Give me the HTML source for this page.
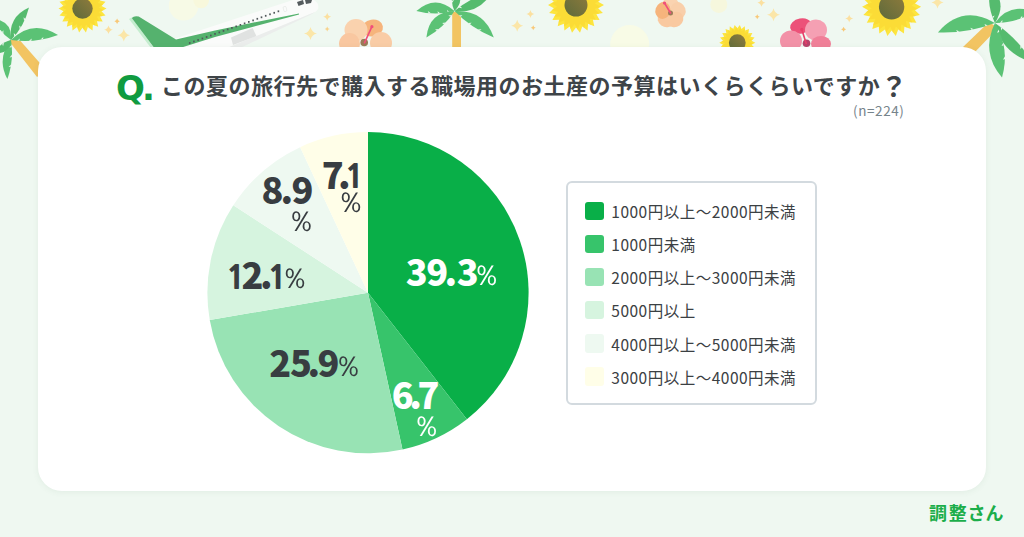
<!DOCTYPE html>
<html lang="ja">
<head>
<meta charset="utf-8">
<style>
*{margin:0;padding:0;box-sizing:border-box}
html,body{width:1024px;height:537px;overflow:hidden}
body{position:relative;background:#eff8f1;font-family:"Liberation Sans","Noto Sans CJK JP",sans-serif}
#deco{position:absolute;left:0;top:0}
#card{position:absolute;left:38px;top:47px;width:948px;height:444px;background:#fff;border-radius:24px;box-shadow:0 1px 6px rgba(60,120,80,.08)}
#q{position:absolute;left:116px;top:68px;font-family:"DejaVu Sans",sans-serif;font-weight:700;font-size:34px;color:#109b40;line-height:40px;letter-spacing:-3px}
#title{position:absolute;left:161px;top:68px;font-family:"Noto Sans CJK JP",sans-serif;font-weight:700;font-size:22px;color:#3e4448;line-height:32px;white-space:nowrap;letter-spacing:0.5px}
#qm{font-size:27px;vertical-align:top;position:relative;top:1.5px}
#n{position:absolute;left:853px;top:101px;font-family:"Noto Sans CJK JP",sans-serif;font-size:13.5px;color:#76848b;line-height:18px;letter-spacing:0.6px}
#pie{position:absolute;left:0;top:0}
.g{position:absolute;font-family:"Noto Sans CJK JP",sans-serif;font-weight:900;font-size:36px;line-height:36px;white-space:nowrap}
.g1{position:absolute;font-family:"NanumGothic","Noto Sans CJK JP",sans-serif;font-weight:800;font-size:33.5px;line-height:36px;white-space:nowrap}
.pc{position:absolute;font-family:"WenQuanYi Zen Hei","DejaVu Sans",sans-serif;font-weight:400;font-size:28.5px;line-height:36px;white-space:nowrap}
#legend{position:absolute;left:566px;top:181px;width:251px;height:224px;border:2px solid #d3dadf;border-radius:6px;background:#fff}
.row{position:absolute;left:17.3px;height:19px;font-family:"Noto Sans CJK JP",sans-serif;font-size:15.5px;color:#3b4043;line-height:19px;white-space:nowrap;letter-spacing:0.5px}
.sw{position:absolute;left:0;top:0;width:18.8px;height:18.6px;border-radius:3px}
.row span.t{position:absolute;left:26px;top:0.5px}
#logo{position:absolute;left:929px;top:498.5px;font-family:"Noto Sans CJK JP",sans-serif;font-weight:700;font-size:18px;color:#1bae4a;line-height:26px;letter-spacing:1.7px;font-feature-settings:"palt"}
</style>
</head>
<body>
<svg id="deco" width="1024" height="90" viewBox="0 0 1024 90">
<defs><linearGradient id="sfc" x1="1" y1="0" x2="0" y2="1"><stop offset="0" stop-color="#8f7b3c"/><stop offset="1" stop-color="#5d6a3b"/></linearGradient></defs>
<circle cx="183.6" cy="5.8" r="14.8" fill="#f7fae6"/>
<circle cx="201.2" cy="0.5" r="7.8" fill="#f8f8dc"/>
<circle cx="629.7" cy="44.5" r="19.5" fill="#f8fbe6"/>
<circle cx="718.8" cy="4.6" r="8.5" fill="#f6f7dd"/>
<path d="M9,41 L37,77 L46,70 L17,37Z" fill="#f2c462"/>
<path d="M11,40 Q7.7,16.9 29,7.4 Q24.4,26.1 11,40Z" fill="#55bb6e"/><path d="M24.1,21 L23.6,17.3 L25.3,18.9Z" fill="#eff8f1"/><path d="M19.7,29.2 L19.2,25.5 L20.9,27.1Z" fill="#eff8f1"/><path d="M14.2,36.8 L13.8,33.1 L15.4,34.7Z" fill="#eff8f1"/>
<path d="M11,40 Q32.5,18.6 58,35 Q35.1,43.5 11,40Z" fill="#5bc275"/><path d="M40.6,39.6 L43.4,37.1 L43,39.3Z" fill="#eff8f1"/><path d="M28.9,41 L31.7,38.5 L31.3,40.7Z" fill="#eff8f1"/><path d="M17,40.9 L19.8,38.4 L19.4,40.6Z" fill="#eff8f1"/>
<path d="M11,40 Q12.5,22.2 -5,19 Q-1,32.5 11,40Z" fill="#5bc275"/><path d="M3.4,34 L3.4,30.3 L2,32.1Z" fill="#eff8f1"/>
<path d="M11,40 Q-3.7,58.3 7.4,79 Q14.2,60 11,40Z" fill="#5bc275"/><path d="M11,64.4 L8.6,67.1 L10.8,66.8Z" fill="#eff8f1"/><path d="M12.1,54.6 L9.6,57.4 L11.8,57Z" fill="#eff8f1"/><path d="M11.8,44.8 L9.4,47.6 L11.6,47.2Z" fill="#eff8f1"/>
<path d="M11,40 Q9.3,54.3 -5,53 Q-0.2,42.6 11,40Z" fill="#55bb6e"/><path d="M4,42.6 L3.1,46.2 L2.2,44.1Z" fill="#eff8f1"/>
<polygon points="106.5,8.6 101.5,11.3 105.5,15.4 100,16.6 102.7,21.6 97,21.2 98.2,26.7 92.9,24.8 92.5,30.4 87.9,27 85.9,32.4 82.5,27.8 79.1,32.4 77.1,27 72.5,30.4 72.1,24.8 66.8,26.7 68,21.2 62.3,21.6 65,16.6 59.5,15.4 63.5,11.3 58.5,8.6 63.5,5.9 59.5,1.8 65,0.6 62.3,-4.4 68,-4 66.8,-9.5 72.1,-7.6 72.5,-13.2 77.1,-9.8 79.1,-15.2 82.5,-10.6 85.9,-15.2 87.9,-9.8 92.5,-13.2 92.9,-7.6 98.2,-9.5 97,-4 102.7,-4.4 100,0.6 105.5,1.8 101.5,5.9" fill="#fde53e"/><polygon points="103.6,10.1 98.4,12.1 102.3,16 96.8,16.4 99.4,21.3 94,20.1 95.2,25.5 90.3,22.9 89.9,28.4 86,24.5 84,29.7 81.3,24.9 78,29.2 76.8,23.9 72.4,27.1 72.7,21.7 67.6,23.5 69.4,18.4 64,18.7 67.2,14.3 61.9,13.1 66.2,9.8 61.4,7.1 66.6,5.1 62.7,1.2 68.2,0.8 65.6,-4.1 71,-2.9 69.8,-8.3 74.7,-5.7 75.1,-11.2 79,-7.3 81,-12.5 83.7,-7.7 87,-12 88.2,-6.7 92.6,-9.9 92.3,-4.5 97.4,-6.3 95.6,-1.2 101,-1.5 97.8,2.9 103.1,4.1 98.8,7.4" fill="#fbdc36"/><circle cx="82.5" cy="8.6" r="10.2" fill="url(#sfc)"/>
<path d="M117.1,18.6 Q117.6,20.8 119.8,21.3 Q117.6,21.8 117.1,24 Q116.6,21.8 114.4,21.3 Q116.6,20.8 117.1,18.6Z" fill="#f8c877"/>
<path d="M108.5,25.4 Q109.3,28.9 112.8,29.7 Q109.3,30.5 108.5,34 Q107.7,30.5 104.2,29.7 Q107.7,28.9 108.5,25.4Z" fill="#fbe0a0"/>
<path d="M123.8,29 Q124.9,34.1 130,35.2 Q124.9,36.3 123.8,41.4 Q122.7,36.3 117.6,35.2 Q122.7,34.1 123.8,29Z" fill="#fbe6a8"/>
<path d="M140,50 L173.8,39 L296,-1 L312,-1 Q320,3 318,9 Q317,11 315,12 L224,50Z" fill="#fafbfa"/>
<path d="M222,50 L315,12 Q313,13.5 310,15 L236,50Z" fill="#ebedec"/>
<path d="M129,19 L131.8,17.6 L154,48 L151,48Z" fill="#c5edcf"/>
<path d="M131.8,18 Q134,15.6 138.7,16.6 L176,39.5 L215,30.4 L299,13.4 L299,14.6 L215,37 L180,48 L154.3,48Z" fill="#55b26e"/>
<rect x="188.9" y="42.1" width="1.6" height="1.8" fill="#50575a"/>
<rect x="193.1" y="40.6" width="1.6" height="1.8" fill="#50575a"/>
<rect x="197.3" y="39.1" width="1.6" height="1.8" fill="#50575a"/>
<rect x="201.6" y="37.6" width="1.6" height="1.8" fill="#50575a"/>
<rect x="205.8" y="36.1" width="1.6" height="1.8" fill="#50575a"/>
<rect x="210" y="34.6" width="1.6" height="1.8" fill="#50575a"/>
<rect x="214.2" y="33" width="1.6" height="1.8" fill="#50575a"/>
<rect x="218.5" y="31.5" width="1.6" height="1.8" fill="#50575a"/>
<rect x="222.7" y="30" width="1.6" height="1.8" fill="#50575a"/>
<rect x="226.9" y="28.5" width="1.6" height="1.8" fill="#50575a"/>
<rect x="231.1" y="27" width="1.6" height="1.8" fill="#50575a"/>
<rect x="235.4" y="25.5" width="1.6" height="1.8" fill="#50575a"/>
<rect x="239.6" y="24" width="1.6" height="1.8" fill="#50575a"/>
<rect x="243.8" y="22.5" width="1.6" height="1.8" fill="#50575a"/>
<rect x="248" y="21" width="1.6" height="1.8" fill="#50575a"/>
<rect x="252.3" y="19.5" width="1.6" height="1.8" fill="#50575a"/>
<rect x="256.5" y="17.9" width="1.6" height="1.8" fill="#50575a"/>
<rect x="260.7" y="16.4" width="1.6" height="1.8" fill="#50575a"/>
<rect x="264.9" y="14.9" width="1.6" height="1.8" fill="#50575a"/>
<rect x="269.2" y="13.4" width="1.6" height="1.8" fill="#50575a"/>
<rect x="273.4" y="11.9" width="1.6" height="1.8" fill="#50575a"/>
<rect x="277.6" y="10.4" width="1.6" height="1.8" fill="#50575a"/>
<path d="M231,37.5 L252.6,28 L256.4,36 L233,45Z" fill="#e0e2e1"/>
<path d="M297,2 L303,0 L304,4 L298.5,6Z M305,0 L312,0 L311,3 L306,4Z" fill="#555b5e"/>
<rect x="283.5" y="6.5" width="3" height="5" rx="1" fill="none" stroke="#e3e6e4" stroke-width="0.6" transform="rotate(-15 285 9)"/>
<path d="M327.2,12.7 Q327.9,16 331.2,16.7 Q327.9,17.4 327.2,20.7 Q326.5,17.4 323.2,16.7 Q326.5,16 327.2,12.7Z" fill="#fbe0a0"/>
<path d="M327.2,26.5 Q327.6,28.6 329.7,29 Q327.6,29.4 327.2,31.5 Q326.8,29.4 324.7,29 Q326.8,28.6 327.2,26.5Z" fill="#f8d28a"/>
<path d="M310.5,26.9 Q311.7,32.2 317,33.4 Q311.7,34.6 310.5,39.9 Q309.3,34.6 304,33.4 Q309.3,32.2 310.5,26.9Z" fill="#fbe6a8"/>
<ellipse cx="372.5" cy="28" rx="10.5" ry="8.5" transform="rotate(-10 372.5 28)" fill="#f6b47c"/><ellipse cx="356" cy="30" rx="11.5" ry="11" transform="rotate(0 356 30)" fill="#fad2ae"/><ellipse cx="349.5" cy="44" rx="10.5" ry="11" transform="rotate(0 349.5 44)" fill="#f9c7a0"/><ellipse cx="381" cy="43" rx="11" ry="11" transform="rotate(0 381 43)" fill="#f9cca6"/><circle cx="364.2" cy="42.5" r="3.8" fill="#9b7a58"/><line x1="364.5" y1="42.8" x2="371.9" y2="26.7" stroke="#f0507a" stroke-width="1.6" stroke-linecap="round"/><circle cx="371.9" cy="26.7" r="1.6" fill="#f0507a"/>
<rect x="452.2" y="12" width="8.8" height="40" fill="#f2c462"/>
<path d="M454.5,11 Q479.6,14 492,-8 Q471,-3 454.5,11Z" fill="#55bb6e"/><path d="M476.8,-2.8 L480.4,-2.2 L478.9,-3.9Z" fill="#eff8f1"/><path d="M458.5,7.6 L462.1,8.2 L460.6,6.5Z" fill="#eff8f1"/>
<path d="M454.5,11 Q466.2,-0.8 454,-12 Q449.3,-0.4 454.5,11Z" fill="#55bb6e"/><path d="M451.9,3.1 L454.1,0 L451.9,0.7Z" fill="#eff8f1"/>
<path d="M454.5,11 Q435.4,-6 416.4,11 Q435.4,16 454.5,11Z" fill="#5bc275"/><path d="M430.9,13.3 L427.9,11.1 L428.5,13.3Z" fill="#eff8f1"/><path d="M440.5,13.4 L437.5,11.2 L438.1,13.4Z" fill="#eff8f1"/><path d="M450,12.3 L447,10.1 L447.6,12.3Z" fill="#eff8f1"/>
<path d="M454.5,11 Q428.8,11.9 426.4,37.5 Q443.9,27.9 454.5,11Z" fill="#5bc275"/><path d="M438.7,29.1 L435,29.5 L436.9,30.7Z" fill="#eff8f1"/><path d="M445.8,22.5 L442.1,23 L444,24.2Z" fill="#eff8f1"/><path d="M452,15.1 L448.3,15.5 L450.3,16.7Z" fill="#eff8f1"/>
<path d="M454.5,11 Q484.2,9.3 493.8,37.5 Q471.4,28.4 454.5,11Z" fill="#5bc275"/><path d="M477.8,29.4 L481.5,29.3 L479.8,30.8Z" fill="#eff8f1"/><path d="M467.9,22.9 L471.6,22.8 L469.9,24.3Z" fill="#eff8f1"/><path d="M458.7,15.4 L462.4,15.2 L460.7,16.7Z" fill="#eff8f1"/>
<path d="M517.2,19.8 Q518.3,24.7 523.2,25.8 Q518.3,26.9 517.2,31.8 Q516.1,26.9 511.2,25.8 Q516.1,24.7 517.2,19.8Z" fill="#fbe6a8"/>
<path d="M530.4,9.9 Q531.1,13.2 534.4,13.9 Q531.1,14.6 530.4,17.9 Q529.7,14.6 526.4,13.9 Q529.7,13.2 530.4,9.9Z" fill="#fbe0a0"/>
<path d="M533.2,25.3 Q533.7,27.4 535.7,27.8 Q533.7,28.2 533.2,30.3 Q532.8,28.2 530.7,27.8 Q532.8,27.4 533.2,25.3Z" fill="#f8c877"/>
<polygon points="604,5 598.2,8.2 602.9,12.9 596.4,14.3 599.6,20.1 592.9,19.7 594.3,26.2 588.1,23.8 587.6,30.5 582.3,26.5 580,32.7 576,27.4 572,32.7 569.7,26.5 564.4,30.5 563.9,23.8 557.7,26.2 559.1,19.7 552.4,20.1 555.6,14.3 549.1,12.9 553.8,8.2 548,5 553.8,1.8 549.1,-2.9 555.6,-4.3 552.4,-10.1 559.1,-9.7 557.7,-16.2 563.9,-13.8 564.4,-20.5 569.7,-16.5 572,-22.7 576,-17.4 580,-22.7 582.3,-16.5 587.6,-20.5 588.1,-13.8 594.3,-16.2 592.9,-9.7 599.6,-10.1 596.4,-4.3 602.9,-2.9 598.2,1.8" fill="#fde53e"/><polygon points="600.6,6.8 594.6,9 599.1,13.6 592.7,14.1 595.7,19.8 589.5,18.5 590.8,24.7 585.1,21.7 584.6,28.1 580,23.6 577.8,29.6 574.6,24 570.8,29.1 569.3,22.8 564.2,26.6 564.6,20.2 558.6,22.4 560.8,16.4 554.4,16.8 558.2,11.7 551.9,10.2 557,6.4 551.4,3.2 557.4,1 552.9,-3.6 559.3,-4.1 556.3,-9.8 562.5,-8.5 561.2,-14.7 566.9,-11.7 567.4,-18.1 572,-13.6 574.2,-19.6 577.4,-14 581.2,-19.1 582.7,-12.8 587.8,-16.6 587.4,-10.2 593.4,-12.4 591.2,-6.4 597.6,-6.8 593.8,-1.7 600.1,-0.2 595,3.6" fill="#fbdc36"/><circle cx="576" cy="5" r="11.5" fill="url(#sfc)"/>
<ellipse cx="670.5" cy="5" rx="8.5" ry="7.5" transform="rotate(0 670.5 5)" fill="#fad3b0"/><ellipse cx="678.1" cy="10.5" rx="8.5" ry="7.5" transform="rotate(72 678.1 10.5)" fill="#f9cfaa"/><ellipse cx="675.2" cy="19.5" rx="8.5" ry="7.5" transform="rotate(144 675.2 19.5)" fill="#f9c9a0"/><ellipse cx="665.8" cy="19.5" rx="8.5" ry="7.5" transform="rotate(216 665.8 19.5)" fill="#f9c9a0"/><ellipse cx="662.9" cy="10.5" rx="8.5" ry="7.5" transform="rotate(288 662.9 10.5)" fill="#f6b47c"/><circle cx="670.5" cy="13" r="2.5" fill="#9b7a58"/><line x1="670.5" y1="13" x2="664.5" y2="3" stroke="#f0507a" stroke-width="1.6" stroke-linecap="round"/><circle cx="664.5" cy="3" r="1.6" fill="#f0507a"/>
<path d="M761.4,-1.2 Q762.1,2.1 765.4,2.8 Q762.1,3.5 761.4,6.8 Q760.7,3.5 757.4,2.8 Q760.7,2.1 761.4,-1.2Z" fill="#fbe0a0"/>
<path d="M773.5,8.3 Q774.7,13.6 780,14.8 Q774.7,16 773.5,21.3 Q772.3,16 767,14.8 Q772.3,13.6 773.5,8.3Z" fill="#fbe6a8"/>
<path d="M757.2,14.2 Q757.7,16.2 759.7,16.7 Q757.7,17.1 757.2,19.2 Q756.8,17.1 754.7,16.7 Q756.8,16.2 757.2,14.2Z" fill="#f8c877"/>
<polygon points="755.3,42.7 751.6,44.7 754.6,47.8 750.4,48.7 752.4,52.4 748.2,52.1 749.1,56.3 745.1,54.8 744.8,59.1 741.4,56.5 739.9,60.5 737.3,57.1 734.7,60.5 733.2,56.5 729.8,59.1 729.5,54.8 725.5,56.3 726.4,52.1 722.2,52.4 724.2,48.7 720,47.8 723,44.7 719.3,42.7 723,40.7 720,37.6 724.2,36.7 722.2,33 726.4,33.3 725.5,29.1 729.5,30.6 729.8,26.3 733.2,28.9 734.7,24.9 737.3,28.3 739.9,24.9 741.4,28.9 744.8,26.3 745.1,30.6 749.1,29.1 748.2,33.3 752.4,33 750.4,36.7 754.6,37.6 751.6,40.7" fill="#fde53e"/><polygon points="753.1,43.8 749.3,45.3 752.1,48.2 748,48.6 750,52.2 746,51.4 746.8,55.4 743.2,53.4 742.8,57.5 739.9,54.7 738.4,58.5 736.4,54.9 733.9,58.2 733,54.2 729.7,56.6 730,52.5 726.1,53.9 727.5,50 723.4,50.3 725.8,47 721.8,46.1 725.1,43.6 721.5,41.6 725.3,40.1 722.5,37.2 726.6,36.8 724.6,33.2 728.6,34 727.8,30 731.4,32 731.8,27.9 734.7,30.7 736.2,26.9 738.2,30.5 740.7,27.2 741.6,31.2 744.9,28.8 744.6,32.9 748.5,31.5 747.1,35.4 751.2,35.1 748.8,38.4 752.8,39.3 749.5,41.8" fill="#fbdc36"/><circle cx="737.3" cy="42.7" r="8.4" fill="url(#sfc)"/>
<ellipse cx="801" cy="26" rx="11" ry="7.5" transform="rotate(-10 801 26)" fill="#ec5279"/><ellipse cx="816" cy="30" rx="11" ry="10.5" transform="rotate(0 816 30)" fill="#f5a0b3"/><ellipse cx="791" cy="41" rx="11" ry="10.5" transform="rotate(0 791 41)" fill="#f291a7"/><ellipse cx="821" cy="44" rx="10" ry="8" transform="rotate(0 821 44)" fill="#f07f98"/><circle cx="806.5" cy="43.2" r="3.8" fill="#b8426a"/><line x1="806.2" y1="43.5" x2="801.8" y2="29.4" stroke="#e8406a" stroke-width="1.6" stroke-linecap="round"/><circle cx="801.8" cy="29.4" r="1.6" fill="#e8406a"/>
<path d="M849.2,14.6 Q849.9,17.9 853.2,18.6 Q849.9,19.3 849.2,22.6 Q848.5,19.3 845.2,18.6 Q848.5,17.9 849.2,14.6Z" fill="#fbe0a0"/>
<path d="M843.6,26.8 Q844.1,28.9 846.1,29.3 Q844.1,29.8 843.6,31.8 Q843.1,29.8 841.1,29.3 Q843.1,28.9 843.6,26.8Z" fill="#f8c877"/>
<polygon points="921.1,6.8 915,10.2 919.9,15.1 913.1,16.6 916.4,22.7 909.4,22.3 910.9,29.1 904.4,26.7 903.9,33.6 898.2,29.4 895.8,36 891.6,30.4 887.4,36 885,29.4 879.3,33.6 878.8,26.7 872.3,29.1 873.8,22.3 866.8,22.7 870.1,16.6 863.3,15.1 868.2,10.2 862.1,6.8 868.2,3.4 863.3,-1.5 870.1,-3 866.8,-9.1 873.8,-8.7 872.3,-15.5 878.8,-13.1 879.3,-20 885,-15.8 887.4,-22.4 891.6,-16.8 895.8,-22.4 898.2,-15.8 903.9,-20 904.4,-13.1 910.9,-15.5 909.4,-8.7 916.4,-9.1 913.1,-3 919.9,-1.5 915,3.4" fill="#fde53e"/><polygon points="917.5,8.7 911.2,11.1 915.9,15.9 909.2,16.4 912.4,22.4 905.8,21 907.2,27.6 901.2,24.4 900.7,31.1 895.9,26.4 893.5,32.7 890.2,26.8 886.1,32.2 884.6,25.6 879.2,29.6 879.6,22.9 873.2,25.2 875.5,18.8 868.8,19.2 872.8,13.8 866.2,12.3 871.6,8.2 865.7,4.9 872,2.5 867.3,-2.3 874,-2.8 870.8,-8.8 877.4,-7.4 876,-14 882,-10.8 882.5,-17.5 887.3,-12.8 889.7,-19.1 893,-13.2 897.1,-18.6 898.6,-12 904,-16 903.6,-9.3 910,-11.6 907.7,-5.2 914.4,-5.6 910.4,-0.2 917,1.3 911.6,5.4" fill="#fbdc36"/><circle cx="891.6" cy="6.8" r="12.7" fill="url(#sfc)"/>
<path d="M937.5,-3.5 Q938.6,1.4 943.5,2.5 Q938.6,3.6 937.5,8.5 Q936.4,3.6 931.5,2.5 Q936.4,1.4 937.5,-3.5Z" fill="#fbe6a8"/>
<path d="M989,22 L998,28 L974,53 L963,47Z" fill="#f2c462"/>
<path d="M994.9,22.9 Q1008.3,2.3 990,-14 Q986.5,5.2 994.9,22.9Z" fill="#55bb6e"/><path d="M989.2,0.5 L991,-2.8 L988.9,-1.9Z" fill="#eff8f1"/><path d="M992.8,18.8 L994.6,15.5 L992.5,16.4Z" fill="#eff8f1"/>
<path d="M994.9,22.9 Q1010.2,2 1034,12 Q1016.1,23.2 994.9,22.9Z" fill="#5bc275"/><path d="M1019.9,18.8 L1022.2,15.8 L1022.2,18.1Z" fill="#eff8f1"/><path d="M1000,23.1 L1002.3,20.1 L1002.3,22.4Z" fill="#eff8f1"/>
<path d="M994.9,22.9 Q1001.8,53.5 1032,62 Q1017.8,38.3 994.9,22.9Z" fill="#55bb6e"/><path d="M1020.2,45.6 L1020.6,49.3 L1021.8,47.3Z" fill="#eff8f1"/><path d="M1000.7,26.8 L1001.2,30.5 L1002.4,28.6Z" fill="#eff8f1"/>
<path d="M994.9,22.9 Q962.5,4 937.9,32.4 Q967.4,33.6 994.9,22.9Z" fill="#5bc275"/><path d="M959.5,31.6 L956.2,29.9 L957.1,32Z" fill="#eff8f1"/><path d="M973.8,29.3 L970.4,27.7 L971.4,29.7Z" fill="#eff8f1"/><path d="M987.8,25.6 L984.5,24 L985.4,26Z" fill="#eff8f1"/>
<path d="M994.9,22.9 Q980.6,52.5 1002,77.5 Q1010.3,48.7 994.9,22.9Z" fill="#5bc275"/><path d="M1004.8,56.5 L1003,59.8 L1005.1,58.9Z" fill="#eff8f1"/><path d="M1003.3,42.8 L1001.5,46.1 L1003.6,45.2Z" fill="#eff8f1"/><path d="M998.8,29.5 L997,32.8 L999.2,31.9Z" fill="#eff8f1"/>
</svg>
<div id="card"></div>
<div id="q">Q.</div>
<div id="title">この夏の旅行先で購入する職場用のお土産の予算はいくらくらいですか<span id="qm">？</span></div>
<div id="n">(n=224)</div>
<svg id="pie" width="1024" height="537" viewBox="0 0 1024 537">
<path fill="#09af48" d="M368,292.7 L368.00,132.10 A160.6,160.6 0 0 1 466.88,419.25 Z"/>
<path fill="#37c46b" d="M368,292.7 L466.88,419.25 A160.6,160.6 0 0 1 402.49,449.55 Z"/>
<path fill="#98e3b4" d="M368,292.7 L402.49,449.55 A160.6,160.6 0 0 1 209.74,320.04 Z"/>
<path fill="#d6f4df" d="M368,292.7 L209.74,320.04 A160.6,160.6 0 0 1 233.31,205.23 Z"/>
<path fill="#eef9f1" d="M368,292.7 L233.31,205.23 A160.6,160.6 0 0 1 300.13,147.15 Z"/>
<path fill="#fffee8" d="M368,292.7 L300.13,147.15 A160.6,160.6 0 0 1 368.00,132.10 Z"/>
</svg>
<span class="g" style="left:405.8px;top:252.1px;color:#fff">3</span>
<span class="g" style="left:426.2px;top:252.1px;color:#fff">9</span>
<span class="g" style="left:444.6px;top:252.1px;color:#fff">.</span>
<span class="g" style="left:456.8px;top:252.1px;color:#fff">3</span>
<span class="pc" style="left:476.7px;top:257.8px;color:#fff">%</span>
<span class="g" style="left:269.3px;top:343.2px;color:#383d41">2</span>
<span class="g" style="left:290.1px;top:343.2px;color:#383d41">5</span>
<span class="g" style="left:307.5px;top:343.2px;color:#383d41">.</span>
<span class="g" style="left:317.5px;top:343.2px;color:#383d41">9</span>
<span class="pc" style="left:338.5px;top:348.8px;color:#383d41">%</span>
<span class="g1" style="left:225.8px;top:258.7px;color:#383d41">1</span>
<span class="g" style="left:241.4px;top:255.2px;color:#383d41">2</span>
<span class="g" style="left:260.0px;top:255.2px;color:#383d41">.</span>
<span class="g1" style="left:267.3px;top:258.7px;color:#383d41">1</span>
<span class="pc" style="left:284.9px;top:260.8px;color:#383d41">%</span>
<span class="g" style="left:261.4px;top:170.1px;color:#383d41">8</span>
<span class="g" style="left:280.5px;top:170.1px;color:#383d41">.</span>
<span class="g" style="left:291.4px;top:170.1px;color:#383d41">9</span>
<span class="pc" style="left:291.4px;top:204.2px;color:#383d41">%</span>
<span class="g" style="left:321.8px;top:154.8px;color:#383d41">7</span>
<span class="g" style="left:338.0px;top:154.8px;color:#383d41">.</span>
<span class="g1" style="left:344.6px;top:158.3px;color:#383d41">1</span>
<span class="pc" style="left:341.1px;top:185.2px;color:#383d41">%</span>
<span class="g" style="left:391.8px;top:375.1px;color:#fff">6</span>
<span class="g" style="left:409.2px;top:375.1px;color:#fff">.</span>
<span class="g" style="left:417.4px;top:375.1px;color:#fff">7</span>
<span class="pc" style="left:416.7px;top:408.8px;color:#fff">%</span>
<div id="legend">
<div class="row" style="top:18.6px"><div class="sw" style="background:#09af48"></div><span class="t">1000円以上〜2000円未満</span></div>
<div class="row" style="top:51.7px"><div class="sw" style="background:#37c46b"></div><span class="t">1000円未満</span></div>
<div class="row" style="top:84.8px"><div class="sw" style="background:#98e3b4"></div><span class="t">2000円以上〜3000円未満</span></div>
<div class="row" style="top:117.9px"><div class="sw" style="background:#d6f4df"></div><span class="t">5000円以上</span></div>
<div class="row" style="top:151.1px"><div class="sw" style="background:#eef9f1"></div><span class="t">4000円以上〜5000円未満</span></div>
<div class="row" style="top:184.2px"><div class="sw" style="background:#fffee8"></div><span class="t">3000円以上〜4000円未満</span></div>
</div>
<div id="logo">調整さん</div>
</body>
</html>
